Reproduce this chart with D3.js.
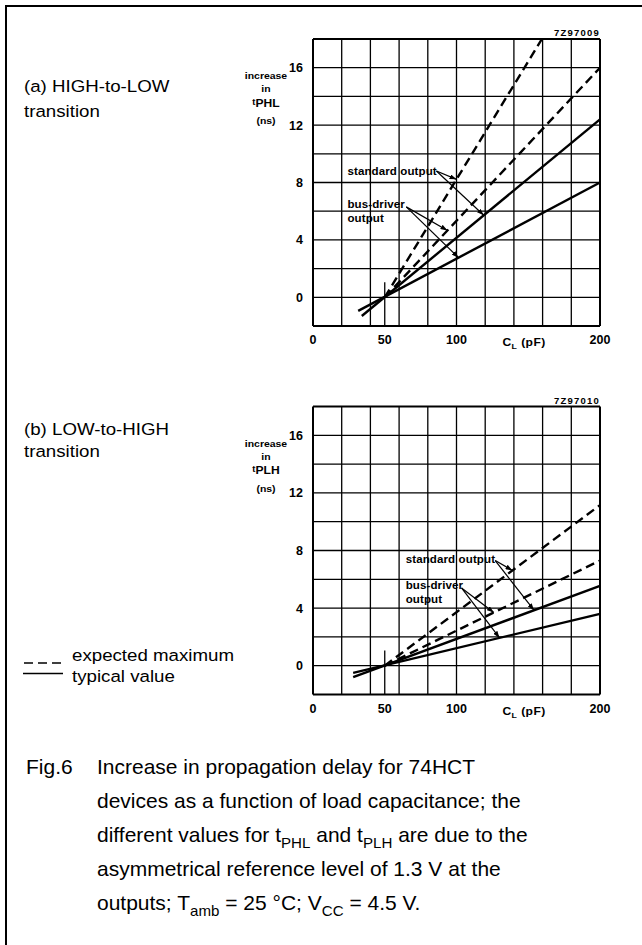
<!DOCTYPE html>
<html>
<head>
<meta charset="utf-8">
<script src="https://cdn.jsdelivr.net/npm/d3@7.9.0/dist/d3.min.js"></script>
<style>
  html, body { margin: 0; padding: 0; background: #fff; }
  svg { display: block; }
</style>
</head>
<body>
<svg id="chart" width="642" height="945"></svg>
<script>
// axes: C_L in pF, increase in delay in ns
const clLabels = [0, 50, 100, 200];
const nsLabels = [0, 4, 8, 12, 16];
const clGrid = d3.range(0, 201, 20);
const nsGrid = d3.range(-2, 19, 2);

// (a) HIGH-to-LOW: [C_L, increase in tPHL]
const phlStdMax = [[50, 0], [159.5, 18]];
const phlBusMax = [[50, 0], [200, 16]];
const phlStdTyp = [[34, -1.3], [200, 12.4]];
const phlBusTyp = [[31.5, -0.95], [200, 8]];

// (b) LOW-to-HIGH: [C_L, increase in tPLH]
const plhStdMax = [[50, 0], [200, 11.15]];
const plhBusMax = [[50, 0], [200, 7.3]];
const plhStdTyp = [[28, -0.8], [200, 5.55]];
const plhBusTyp = [[28, -0.5], [200, 3.6]];

// C_L where each label's leaders touch the lines [max, typ]
const phlStdPoint = [100, 119];
const phlBusPoint = [93.7, 101.4];
const plhStdPoint = [139, 154];
const plhBusPoint = [126, 130];

const svg = d3.select('#chart');
const left = 313, right = 600;
const SX = 1.1; // scan text is a bit wide
const sans = 'Liberation Sans, Arial, Helvetica, sans-serif';
const narrow = 'Liberation Sans Narrow, Liberation Sans, Arial, sans-serif';

// outer frame (only left and top edges are visible)
svg.append('path')
  .attr('d', 'M6,945 V6 H642')
  .attr('fill', 'none')
  .attr('stroke', '#000')
  .attr('stroke-width', 2);

svg.append('defs').append('marker')
  .attr('id', 'arr')
  .attr('markerUnits', 'userSpaceOnUse')
  .attr('markerWidth', 8).attr('markerHeight', 5)
  .attr('refX', 7).attr('refY', 2.5)
  .attr('orient', 'auto')
  .append('path').attr('d', 'M0,0 L7,2.5 L0,5 Z').attr('fill', '#000');

// text with optional subscripts: parts = ['t', ['PHL', 'sub']]
function txt(g, x, y, parts, o) {
  const t = g.append('text')
    .attr('transform', `translate(${x},${y}) scale(${o.sx || 1},1)`)
    .attr('font-family', o.family || sans)
    .attr('font-size', o.size)
    .attr('font-weight', o.weight || 'normal')
    .attr('text-anchor', o.anchor || 'start')
    .attr('letter-spacing', o.ls || 0)
    .attr('fill', '#000');
  let shift = 0;
  parts.forEach(p => {
    const s = typeof p === 'string' ? p : p[0];
    const sub = typeof p !== 'string';
    const want = sub ? o.size * 0.3 : 0;
    const ts = t.append('tspan').text(s).attr('dy', want - shift);
    if (sub) ts.attr('font-size', o.size * 0.72);
    shift = want;
  });
  return t;
}

function yAt(line, cl) {
  const [[x0, y0], [x1, y1]] = line;
  return y0 + (y1 - y0) * (cl - x0) / (x1 - x0);
}

const panels = [
  {
    top: 39, bottom: 326, code: '7Z97009', sub: 'PHL',
    title: ['(a) HIGH-to-LOW', 'transition'], titleY: 92, titleGap: 25,
    lines: [phlStdMax, phlBusMax, phlStdTyp, phlBusTyp],
    std: { at: [24, 8.5], from: [86, 8.8], lines: [0, 2], points: phlStdPoint },
    bus: { at: [24, 6.24], from: [65, 6.3], lines: [1, 3], points: phlBusPoint }
  },
  {
    top: 406.5, bottom: 694.5, code: '7Z97010', sub: 'PLH',
    title: ['(b) LOW-to-HIGH', 'transition'], titleY: 435, titleGap: 22,
    lines: [plhStdMax, plhBusMax, plhStdTyp, plhBusTyp],
    std: { at: [64.6, 7.13], from: [127, 7.3], lines: [0, 2], points: plhStdPoint },
    bus: { at: [64.6, 5.33], from: [103.5, 5.4], lines: [1, 3], points: plhBusPoint }
  }
];
const dashed = [true, true, false, false];

panels.forEach(p => {
  const x = d3.scaleLinear().domain([0, 200]).range([left, right]);
  const y = d3.scaleLinear().domain([-2, 18]).range([p.bottom, p.top]);
  const g = svg.append('g');

  // grid
  g.selectAll('.vx').data(clGrid).join('line')
    .attr('x1', d => x(d)).attr('x2', d => x(d))
    .attr('y1', p.top).attr('y2', p.bottom)
    .attr('stroke', '#000').attr('stroke-width', d => (d === 0 || d === 200) ? 2 : 1.3);
  g.selectAll('.hy').data(nsGrid).join('line')
    .attr('y1', d => y(d)).attr('y2', d => y(d))
    .attr('x1', left).attr('x2', right)
    .attr('stroke', '#000').attr('stroke-width', d => (d === -2 || d === 18) ? 2 : 1.3);
  // reference mark at 50 pF
  g.append('line')
    .attr('x1', x(50)).attr('x2', x(50))
    .attr('y1', y(-2)).attr('y2', y(1.05))
    .attr('stroke', '#000').attr('stroke-width', 1.3);

  // tick labels
  nsLabels.forEach(v => txt(g, 303, y(v) + 4.5, [String(v)], { size: 12.5, weight: 'bold', family: narrow, anchor: 'end' }));
  clLabels.forEach(v => txt(g, x(v), p.bottom + 18, [String(v)], { size: 12.5, weight: 'bold', family: narrow, anchor: 'middle' }));
  txt(g, x(132), p.bottom + 20, ['C', ['L', 'sub'], ' (pF)'], { size: 11, weight: 'bold', sx: SX, ls: 0.4 });
  txt(g, right, p.top - 3, [p.code], { size: 9.5, weight: 'bold', anchor: 'end', ls: 1.2 });

  // y-axis title
  const ty = y(16);
  txt(g, 266, ty + 11.5, ['increase'], { size: 9.5, weight: 'bold', anchor: 'middle', sx: SX });
  txt(g, 266, ty + 24.5, ['in'], { size: 9.5, weight: 'bold', anchor: 'middle', sx: SX });
  const tt = g.append('text')
    .attr('transform', `translate(266,${ty + 39}) scale(${SX},1)`)
    .attr('font-family', sans).attr('font-weight', 'bold').attr('text-anchor', 'middle');
  tt.append('tspan').attr('font-size', 8.5).attr('dy', -2).text('t');
  tt.append('tspan').attr('font-size', 11).attr('dy', 2).text(p.sub);
  txt(g, 266, ty + 56.5, ['(ns)'], { size: 9.5, weight: 'bold', anchor: 'middle', sx: SX });

  // curves
  const line = d3.line().x(d => x(d[0])).y(d => y(d[1]));
  p.lines.forEach((pts, i) => {
    g.append('path')
      .attr('d', line(pts))
      .attr('fill', 'none')
      .attr('stroke', '#000')
      .attr('stroke-width', 2.4)
      .attr('stroke-dasharray', dashed[i] ? '9,5' : null);
  });

  // labels with leader lines
  [['std', ['standard output']], ['bus', ['bus-driver', 'output']]].forEach(([k, words]) => {
    const a = p[k];
    words.forEach((w, j) => txt(g, x(a.at[0]), y(a.at[1]) + j * 14, [w], { size: 10.5, weight: 'bold', sx: SX, ls: 0.1 }));
    a.lines.forEach((li, j) => {
      const cl = a.points[j];
      g.append('line')
        .attr('x1', x(a.from[0])).attr('y1', y(a.from[1]))
        .attr('x2', x(cl)).attr('y2', y(yAt(p.lines[li], cl)))
        .attr('stroke', '#000').attr('stroke-width', 1.2)
        .attr('marker-end', 'url(#arr)');
    });
  });

  // panel title on the left
  p.title.forEach((s, j) => txt(svg, 24, p.titleY + j * p.titleGap, [s], { size: 17, sx: SX }));
});

// legend
const lg = svg.append('g');
lg.append('line').attr('x1', 24).attr('x2', 62).attr('y1', 663).attr('y2', 663)
  .attr('stroke', '#000').attr('stroke-width', 1.3).attr('stroke-dasharray', '9,5');
lg.append('line').attr('x1', 23).attr('x2', 63).attr('y1', 673.5).attr('y2', 673.5)
  .attr('stroke', '#000').attr('stroke-width', 1.3);
txt(lg, 72, 661, ['expected maximum'], { size: 17, sx: SX });
txt(lg, 72, 681.5, ['typical value'], { size: 17, sx: SX });

// caption
const cap = svg.append('g');
const capOpt = { size: 20, sx: 1.05 };
txt(cap, 26, 774, ['Fig.6'], capOpt);
const capLines = [
  ['Increase in propagation delay for 74HCT'],
  ['devices as a function of load capacitance; the'],
  ['different values for t', ['PHL', 'sub'], ' and t', ['PLH', 'sub'], ' are due to the'],
  ['asymmetrical reference level of 1.3 V at the'],
  ['outputs; T', ['amb', 'sub'], ' = 25 \u00B0C; V', ['CC', 'sub'], ' = 4.5 V.']
];
capLines.forEach((parts, i) => txt(cap, 97, 774 + i * 34, parts, capOpt));
</script>
</body>
</html>
